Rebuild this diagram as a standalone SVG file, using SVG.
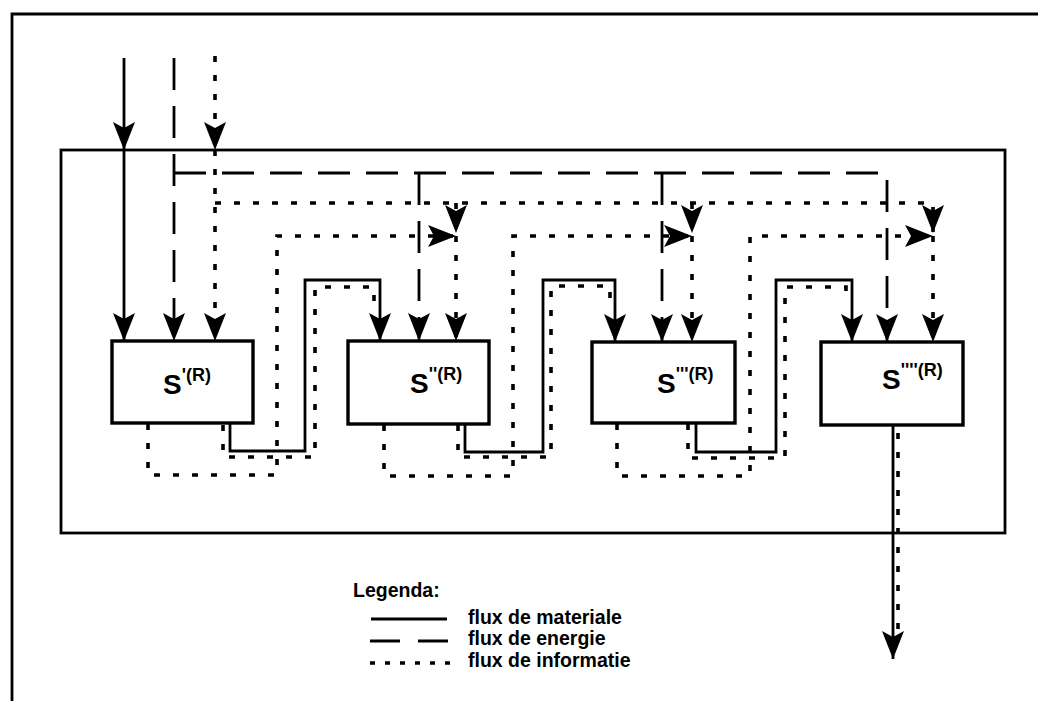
<svg xmlns="http://www.w3.org/2000/svg" width="1038" height="701" viewBox="0 0 1038 701">
<style>
.frame{fill:none;stroke:#000;stroke-width:2.8}
.m{fill:none;stroke:#000;stroke-width:2.8}
.e{fill:none;stroke:#000;stroke-width:2.8;stroke-dasharray:32 16}
.i{fill:none;stroke:#000;stroke-width:3.6;stroke-dasharray:6 13}
.box{fill:#fff;stroke:#000;stroke-width:3.4}
.lbl{font-family:"Liberation Sans",Arial,sans-serif;font-weight:bold;font-size:28px;fill:#000}
.sup{font-size:18px}
.leg{font-family:"Liberation Sans",Arial,sans-serif;font-weight:bold;font-size:19.5px;fill:#000}
</style>
<defs>
<marker id="ah" viewBox="0 0 28 22" refX="28" refY="11" markerWidth="28" markerHeight="22" markerUnits="userSpaceOnUse" orient="auto">
<path d="M0,0 L28,11 L0,22 L6,11 z" fill="#000"/>
</marker>
</defs>
<rect width="1038" height="701" fill="#fff"/>
<g id="frame">
<path class="frame" d="M12,701 V14 H1038"/>
<rect class="frame" x="61" y="150" width="944" height="383"/>
</g>
<g id="connectors">
<path class="m" d="M124,58 V150" marker-end="url(#ah)"/>
<path class="m" d="M124,150 V341" marker-end="url(#ah)"/>
<path class="m" d="M230,423 V451 H305 V280 H380 V341" marker-end="url(#ah)"/>
<path class="m" d="M465,424 V452 H543 V280 H615 V342" marker-end="url(#ah)"/>
<path class="m" d="M696,423 V452 H776 V280 H852 V342" marker-end="url(#ah)"/>
<path class="m" d="M893,425 V659" marker-end="url(#ah)"/>
<path class="e" d="M174,58 V341" marker-end="url(#ah)"/>
<path class="e" d="M174,173 H887 V342" marker-end="url(#ah)"/>
<path class="e" d="M419,173 V341" marker-end="url(#ah)"/>
<path class="e" d="M662,173 V342" marker-end="url(#ah)"/>
<path class="i" d="M215,56 V150" marker-end="url(#ah)"/>
<path class="i" d="M215,150 V341" marker-end="url(#ah)"/>
<path class="i" d="M215,203 H933 V233" marker-end="url(#ah)"/>
<path class="i" d="M456,203 V233" marker-end="url(#ah)"/>
<path class="i" d="M692,203 V233" marker-end="url(#ah)"/>
<path class="i" d="M148,424 V475 H277 V236 H456" marker-end="url(#ah)"/>
<path class="i" d="M384,425 V476 H513 V236 H692" marker-end="url(#ah)"/>
<path class="i" d="M617,424 V476 H750 V236 H933" marker-end="url(#ah)"/>
<path class="i" d="M456,236 V341" marker-end="url(#ah)"/>
<path class="i" d="M692,236 V342" marker-end="url(#ah)"/>
<path class="i" d="M933,236 V342" marker-end="url(#ah)"/>
<path class="i" d="M223,425 V457 H315 V287 H374 V306"/>
<path class="i" d="M458,425 V457 H551 V286 H610 V302"/>
<path class="i" d="M688,424 V458 H785 V287 H846 V302"/>
<path class="i" d="M898,433 V640"/>
</g>
<g id="S1">
<rect class="box" x="112" y="341" width="141" height="82"/>
<text class="lbl" x="163" y="394">S<tspan class="sup" dy="-13">'(R)</tspan></text>
</g>
<g id="S2">
<rect class="box" x="348" y="341" width="141" height="83"/>
<text class="lbl" x="410" y="393">S<tspan class="sup" dy="-13">''(R)</tspan></text>
</g>
<g id="S3">
<rect class="box" x="592" y="342" width="143" height="81"/>
<text class="lbl" x="657" y="393">S<tspan class="sup" dy="-13">'''(R)</tspan></text>
</g>
<g id="S4">
<rect class="box" x="821" y="342" width="142" height="83"/>
<text class="lbl" x="882" y="389">S<tspan class="sup" dy="-13">''''(R)</tspan></text>
</g>
<g id="legend">
<text class="leg" x="353" y="597">Legenda:</text>
<path class="m" d="M371,619 H447"/>
<path class="m" d="M370,641 H400 M418,641 H448"/>
<path class="i" d="M370,663 H450" style="stroke-dasharray:5 10"/>
<text class="leg" x="468" y="624">flux de materiale</text>
<text class="leg" x="468" y="645">flux de energie</text>
<text class="leg" x="468" y="667">flux de informatie</text>
</g>
</svg>
